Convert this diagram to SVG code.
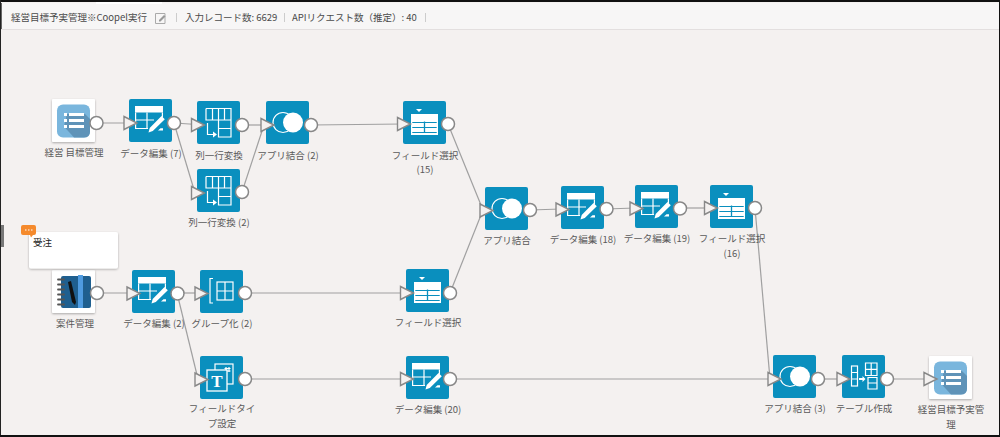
<svg xmlns="http://www.w3.org/2000/svg" width="1000" height="437" viewBox="0 0 1000 437">
<style>
text{font-family:"Noto Sans CJK JP","Liberation Sans",sans-serif;font-size:9.5px;fill:#5a5a5a}
.l{text-anchor:middle}
.h{fill:#4a4a4a}
.box{fill:#0a8fbe}
.ic{fill:none;stroke:#fff;stroke-width:1.2}
.w{fill:#fff}
.con{fill:none;stroke:#a0a0a0;stroke-width:1.2}
.in{fill:#f4f1f0;stroke:#888;stroke-width:1.4}
.out{fill:#fff;stroke:#888;stroke-width:1.5}
</style>
<defs>
<filter id="sh" x="-10%" y="-15%" width="120%" height="130%"><feDropShadow dx="0" dy="1" stdDeviation="1.2" flood-color="#000" flood-opacity=".3"/></filter>
<g id="base"><rect class="box" width="43" height="43" rx="2"/></g>
<g id="edit"><use href="#base"/>
<rect class="w" x="6" y="7" width="28" height="6.500"/>
<path class="ic" d="M6.600 13.500V29.500H19M6.600 21H25M18 13.500V29.500M33.400 13.500V18.500"/>
<path class="w" d="M19.500 33.500l1.200-4.500L32.500 17l3.300 3.200L23.800 32zM31.500 29.300h2.500v2.200h-5z"/></g>
<g id="select"><use href="#base"/>
<path class="w" d="M13 8h6l-3 3z"/>
<rect class="w" x="8" y="13" width="27" height="21"/>
<path d="M9.300 21.500H33.700M9.300 26.500H33.700M9.300 31.500H33.700" stroke="#0a8fbe" stroke-width="1.200" fill="none"/>
<path d="M21.500 20.500V32" stroke="#0a8fbe" stroke-width="1.300"/></g>
<g id="pivot"><use href="#base"/>
<path class="ic" d="M9 7.500H34V36H21.500V7.500M9 7.500V19H34M15.500 7.500V19M27.500 7.500V19M21.500 27.500H34"/>
<path class="ic" d="M10.500 22V33.500H17"/>
<path class="w" d="M16 30.500l4 3-4 3z"/></g>
<g id="join"><use href="#base"/>
<circle class="ic" cx="17" cy="21.500" r="10"/>
<circle class="w" cx="27" cy="21.500" r="10"/></g>
<g id="group"><use href="#base"/>
<path class="ic" d="M13 8.500H10V33H13"/>
<rect class="ic" x="17" y="12" width="16" height="18"/>
<path class="ic" d="M25 12V30M17 21H33"/></g>
<g id="ftype"><use href="#base"/>
<rect class="ic" x="15" y="8" width="18" height="20"/>
<path class="ic" d="M26 11v5M29 11v5M24.500 12.500h6M24.500 15h6" stroke-width=".8"/>
<rect x="7" y="14" width="20" height="21" fill="#0a8fbe" stroke="#fff" stroke-width="1.300"/>
<text x="17" y="31" style="font-family:'Liberation Serif',serif;font-size:17px;font-weight:bold;fill:#fff;text-anchor:middle">T</text></g>
<g id="tcreate"><use href="#base"/>
<rect class="ic" x="9.500" y="11" width="6" height="20"/>
<path class="ic" d="M9.500 17.500h6M9.500 24h6"/>
<path class="w" d="M17 23h3.500v-2l3 3-3 3v-2H17z"/>
<path class="ic" d="M23.500 8H35V20.500H23.500ZM23.500 14.300H35M29.200 8V20.500M26 22.500H35V34H26ZM26 28H35"/></g>
<g id="app"><rect x="0" y="0" width="43" height="43" rx="1" fill="#fff" filter="url(#sh)"/>
<rect x="5" y="5.500" width="33" height="33" rx="6" fill="#7ab6dd"/>
<path d="M12 27.500L15 15L33 15L38 20V32.500Q38 38.500 32 38.500H22Z" fill="#5f93b8"/>
<path d="M12 14h3v3h-3zM12 20h3v3h-3zM12 26h3v3h-3zM17 14h15v3H17zM17 20h15v3H17zM17 26h15v3H17z" fill="#fff"/></g>
</defs>

<rect width="1000" height="437" fill="#f4f1f0"/>
<rect x="1" y="3" width="998" height="26" fill="#f7f6f6"/>
<rect x="1" y="29" width="998" height="1" fill="#e3dfdf"/>
<rect width="1000" height="2" fill="#111"/>
<rect x="96" y="2" width="66" height="2" fill="#fff"/>
<rect x="0" width="1" height="437" fill="#222"/>
<rect x="1" y="3" width="1" height="26" fill="#666"/>
<rect x="999" width="1" height="437" fill="#111"/>
<rect y="435" width="1000" height="2" fill="#111"/>
<rect x="1" y="225" width="3" height="22" fill="#777"/>
<text class="h" x="11" y="21">経営目標予実管理※Coopel実行</text>
<path d="M155.500 13.500h9.500v10h-9.500z" fill="none" stroke="#aaa"/>
<path d="M159 20l5-5 1.500 1.500-5 5h-1.500z" fill="#999"/>
<path d="M176.500 13v9M284.500 13v9M425.500 13v9" stroke="#ccc"/>
<text class="h" x="185" y="21">入力レコード数: 6629</text>
<text class="h" x="292" y="21">APIリクエスト数（推定）: 40</text>

<g id="connectors">
<path class="con" d="M96 123H130"/>
<path class="con" d="M174 123L197 124.500"/>
<path class="con" d="M174 123L195 193"/>
<path class="con" d="M242 125H266"/>
<path class="con" d="M242 192L264 125"/>
<path class="con" d="M311 125L403 124"/>
<path class="con" d="M448 124L483 210"/>
<path class="con" d="M450 293L483 210"/>
<path class="con" d="M530 210L561 209"/>
<path class="con" d="M606 209L635 208"/>
<path class="con" d="M680 208H710"/>
<path class="con" d="M755 208L770 379"/>
<path class="con" d="M97 293H132"/>
<path class="con" d="M177 293H200"/>
<path class="con" d="M177 293L198 379"/>
<path class="con" d="M245 293H406"/>
<path class="con" d="M245 379H406"/>
<path class="con" d="M450 379H773"/>
<path class="con" d="M818 379H842"/>
<path class="con" d="M887 379H929"/>
</g>

<g id="n1"><use href="#app" x="52" y="99"/><circle class="out" cx="96.500" cy="123" r="6.500"/><text class="l" x="74" y="156">経営 目標管理</text></g>
<g id="n2"><use href="#edit" x="129" y="99"/><path class="in" d="M124 116.500l13 6.500-13 6.500z"/><circle class="out" cx="174" cy="123" r="6.500"/><text class="l" x="151" y="157">データ編集 (7)</text></g>
<g id="n3"><use href="#pivot" x="197" y="101"/><path class="in" d="M191.500 118.500l13 6.500-13 6.500z"/><circle class="out" cx="242" cy="125" r="6.500"/><text class="l" x="219" y="159">列一行変換</text></g>
<g id="n4"><use href="#pivot" x="197" y="169"/><path class="in" d="M191.500 186.500l13 6.500-13 6.500z"/><circle class="out" cx="242" cy="192" r="6.500"/><text class="l" x="219" y="226">列一行変換 (2)</text></g>
<g id="n5"><use href="#join" x="266" y="101"/><path class="in" d="M261 118.500l13 6.500-13 6.500z"/><circle class="out" cx="311" cy="125" r="6.500"/><text class="l" x="288" y="159">アプリ結合 (2)</text></g>
<g id="n6"><use href="#select" x="403" y="101"/><path class="in" d="M397.500 117.500l13 6.500-13 6.500z"/><circle class="out" cx="448" cy="124" r="6.500"/><text class="l" x="425" y="159">フィールド選択</text><text class="l" x="425" y="173">(15)</text></g>
<g id="n7"><use href="#join" x="485" y="187"/><path class="in" d="M480 204l13 6.500-13 6.500z"/><circle class="out" cx="530" cy="210" r="6.500"/><text class="l" x="507" y="244">アプリ結合</text></g>
<g id="n8"><use href="#edit" x="561" y="186"/><path class="in" d="M556 203l13 6.500-13 6.500z"/><circle class="out" cx="606.500" cy="209" r="6.500"/><text class="l" x="583" y="243">データ編集 (18)</text></g>
<g id="n9"><use href="#edit" x="635" y="185"/><path class="in" d="M630 202l13 6.500-13 6.500z"/><circle class="out" cx="680" cy="208.500" r="6.500"/><text class="l" x="657" y="242">データ編集 (19)</text></g>
<g id="n10"><use href="#select" x="710" y="185"/><path class="in" d="M704.500 201.500l13 6.500-13 6.500z"/><circle class="out" cx="755" cy="208" r="6.500"/><text class="l" x="732" y="242">フィールド選択</text><text class="l" x="732" y="257">(16)</text></g>
<g id="n11"><rect x="52" y="270" width="43" height="43" rx="1" fill="#fff" filter="url(#sh)"/>
<rect x="61" y="276" width="30" height="32" rx="2" fill="#1f5f8f"/>
<rect x="78" y="275" width="5" height="33" fill="#4f9be0"/>
<path d="M58 279.500h6M58 284.500h6M58 289.500h6M58 294.500h6M58 299.500h6M58 304.500h6" stroke="#555" stroke-width="1.800" stroke-linecap="round"/>
<path d="M68 282l3-1 5 21-1 3-3-3z" fill="#111"/>
<circle class="out" cx="97" cy="293" r="6.500"/><text class="l" x="75" y="327">案件管理</text></g>
<g id="n12"><use href="#edit" x="132" y="270"/><path class="in" d="M127 287l13 6.500-13 6.500z"/><circle class="out" cx="177.500" cy="293.500" r="6.500"/><text class="l" x="154" y="327">データ編集 (2)</text></g>
<g id="n13"><use href="#group" x="200" y="270"/><path class="in" d="M195 287l13 6.500-13 6.500z"/><circle class="out" cx="245" cy="293" r="6.500"/><text class="l" x="222" y="327">グループ化 (2)</text></g>
<g id="n14"><use href="#ftype" x="200" y="356"/><path class="in" d="M195 373l13 6.500-13 6.500z"/><circle class="out" cx="245" cy="379" r="6.500"/><text class="l" x="222" y="412">フィールドタイ</text><text class="l" x="222" y="427">プ設定</text></g>
<g id="n15"><use href="#select" x="406" y="269"/><path class="in" d="M400.500 286.500l13 6.500-13 6.500z"/><circle class="out" cx="450" cy="293" r="6.500"/><text class="l" x="428" y="326">フィールド選択</text></g>
<g id="n16"><use href="#edit" x="406" y="356"/><path class="in" d="M400.500 372.500l13 6.500-13 6.500z"/><circle class="out" cx="450" cy="379" r="6.500"/><text class="l" x="428" y="413">データ編集 (20)</text></g>
<g id="n17"><use href="#join" x="773" y="355"/><path class="in" d="M768 372.500l13 6.500-13 6.500z"/><circle class="out" cx="818" cy="379" r="6.500"/><text class="l" x="795" y="412">アプリ結合 (3)</text></g>
<g id="n18"><use href="#tcreate" x="842" y="355"/><path class="in" d="M837 372.500l13 6.500-13 6.500z"/><circle class="out" cx="887" cy="379" r="6.500"/><text class="l" x="864" y="412">テーブル作成</text></g>
<g id="n19"><use href="#app" x="929" y="356"/><path class="in" d="M924 372.500l13 6.500-13 6.500z"/><text class="l" x="951" y="413">経営目標予実管</text><text class="l" x="951" y="428">理</text></g>

<g id="note"><rect x="29" y="232" width="89" height="36.500" rx="2" fill="#fff" filter="url(#sh)"/>
<path d="M23 225h11q2 0 2 2v6q0 2-2 2h-1l-2 2.500-1-2.500h-7q-2 0-2-2v-6q0-2 2-2z" fill="#f58a2c"/>
<path d="M25 230h1.500M28 230h1.500M31 230h1.500" stroke="#fff" stroke-width="1.200"/>
<text x="33" y="245.500" style="fill:#222">受注</text></g>
</svg>
